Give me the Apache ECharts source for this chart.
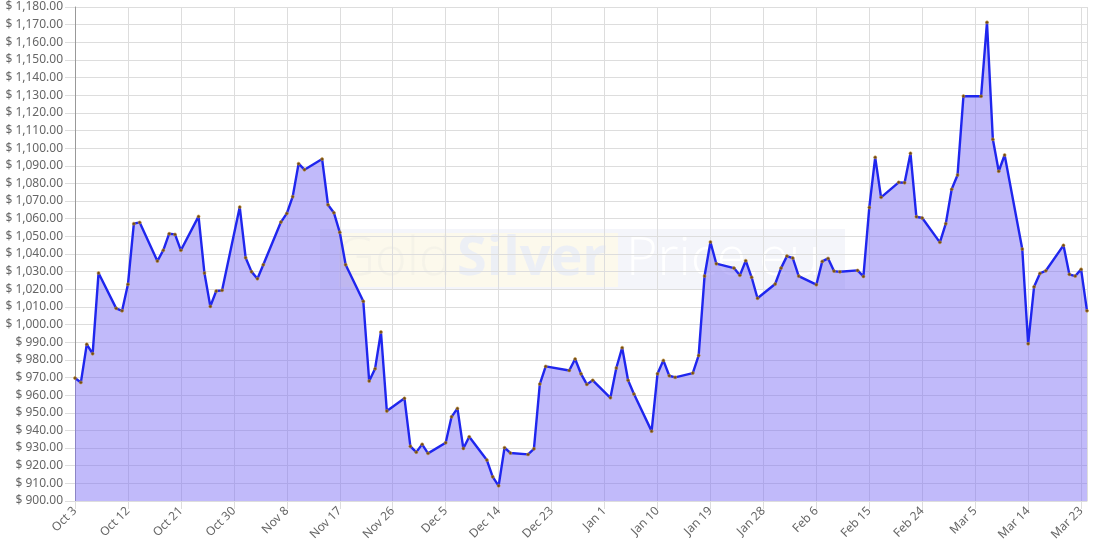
<!DOCTYPE html>
<html>
<head>
<meta charset="utf-8">
<script src="https://cdn.jsdelivr.net/npm/echarts@6/dist/echarts.min.js"></script>
<style>
html,body{margin:0;padding:0;background:#fff;}
#chart{width:1096px;height:548px;}
</style>
</head>
<body>
<div id="chart"></div>
<script>
var startDate = '2022-10-03';
var dates = [
'2022-10-03','2022-10-04','2022-10-05','2022-10-06','2022-10-07',
'2022-10-10','2022-10-11','2022-10-12','2022-10-13','2022-10-14',
'2022-10-17','2022-10-18','2022-10-19','2022-10-20','2022-10-21',
'2022-10-24','2022-10-25','2022-10-26','2022-10-27','2022-10-28',
'2022-10-31','2022-11-01','2022-11-02','2022-11-03','2022-11-04',
'2022-11-07','2022-11-08','2022-11-09','2022-11-10','2022-11-11',
'2022-11-14','2022-11-15','2022-11-16','2022-11-17','2022-11-18',
'2022-11-21','2022-11-22','2022-11-23','2022-11-24','2022-11-25',
'2022-11-28','2022-11-29','2022-11-30','2022-12-01','2022-12-02',
'2022-12-05','2022-12-06','2022-12-07','2022-12-08','2022-12-09',
'2022-12-12','2022-12-13','2022-12-14','2022-12-15','2022-12-16',
'2022-12-19','2022-12-20','2022-12-21','2022-12-22',
'2022-12-26','2022-12-27','2022-12-28','2022-12-29','2022-12-30',
'2023-01-02','2023-01-03','2023-01-04','2023-01-05','2023-01-06',
'2023-01-09','2023-01-10','2023-01-11','2023-01-12','2023-01-13',
'2023-01-16','2023-01-17','2023-01-18','2023-01-19','2023-01-20',
'2023-01-23','2023-01-24','2023-01-25','2023-01-26','2023-01-27',
'2023-01-30','2023-01-31','2023-02-01','2023-02-02','2023-02-03',
'2023-02-06','2023-02-07','2023-02-08','2023-02-09','2023-02-10',
'2023-02-13','2023-02-14','2023-02-15','2023-02-16','2023-02-17',
'2023-02-20','2023-02-21','2023-02-22','2023-02-23','2023-02-24',
'2023-02-27','2023-02-28','2023-03-01','2023-03-02','2023-03-03',
'2023-03-06','2023-03-07','2023-03-08','2023-03-09','2023-03-10',
'2023-03-13','2023-03-14','2023-03-15','2023-03-16','2023-03-17',
'2023-03-20','2023-03-21','2023-03-22','2023-03-23','2023-03-24'
];
var prices = [
969.7,967.2,988.8,983.5,1029.2,
1009.2,1007.8,1022.8,1057.2,1057.9,
1036.0,1042.1,1051.5,1051.1,1042.1,
1061.3,1029.2,1010.3,1019.0,1019.4,
1066.6,1037.9,1030.0,1026.0,1033.9,
1058.1,1063.0,1072.5,1091.2,1087.8,
1093.8,1067.9,1063.4,1052.3,1033.9,
1013.2,968.0,975.0,995.8,951.0,
958.2,931.0,927.7,932.1,927.0,
933.0,947.7,952.5,929.8,936.4,
923.2,913.7,908.6,930.2,927.2,
926.4,929.6,966.3,976.3,
974.0,980.5,972.1,966.1,968.4,
958.5,975.4,986.9,968.4,960.6,
939.6,972.1,979.7,971.0,970.1,
972.5,982.5,1027.5,1046.8,1034.5,
1032.0,1027.9,1036.2,1026.8,1014.9,
1023.0,1032.0,1038.8,1037.7,1027.5,
1022.6,1035.8,1037.5,1030.3,1029.9,
1030.7,1027.3,1066.4,1094.8,1072.1,
1080.6,1080.4,1097.1,1061.1,1060.4,
1046.6,1057.2,1076.7,1084.8,1129.5,
1129.4,1171.3,1105.0,1086.9,1096.1,
1042.8,989.1,1021.4,1029.0,1030.5,
1044.9,1028.5,1027.5,1031.3,1007.8
];
var yMin = 900, yMax = 1180, yStep = 10;
var xSpanDays = 172, xStepDays = 9;

var DAY = 86400000;
var t0 = Date.parse(startDate + 'T00:00:00Z');
var months = ['Jan','Feb','Mar','Apr','May','Jun','Jul','Aug','Sep','Oct','Nov','Dec'];
var seriesData = dates.map(function (d, i) {
  return [Math.round((Date.parse(d + 'T00:00:00Z') - t0) / DAY), prices[i]];
});

var chart = echarts.init(document.getElementById('chart'), null, {renderer: 'canvas'});
var labelFont = '"Noto Sans", sans-serif';
chart.setOption({
  animation: false,
  backgroundColor: '#ffffff',
  grid: {left: 75, right: 9, top: 7, bottom: 47, containLabel: false},
  graphic: [
    {type: 'rect', z: 0, silent: true, shape: {x: 320, y: 229, width: 525, height: 61},
     style: {fill: 'rgba(228,231,242,0.4)'}},
    {type: 'rect', z: 0, silent: true, shape: {x: 339, y: 233, width: 279, height: 54},
     style: {fill: 'rgba(255,251,230,0.7)'}},
    {type: 'text', z: 0, silent: true, x: 336, y: 233,
     style: {text: 'Gold', font: '300 54px "Open Sans", sans-serif', fill: 'rgba(244,242,232,0.9)'}},
    {type: 'text', z: 0, silent: true, x: 457, y: 233,
     style: {text: 'Silver', font: 'bold 54px "Open Sans", sans-serif', fill: 'rgba(234,237,246,0.9)'}},
    {type: 'text', z: 0, silent: true, x: 626, y: 233,
     style: {text: 'Price.eu', font: '300 54px "Open Sans", sans-serif', fill: 'rgba(255,255,255,0.95)'}}
  ],
  xAxis: {
    type: 'value', min: 0, max: xSpanDays, interval: xStepDays,
    axisLine: {show: true, lineStyle: {color: '#dddddd'}},
    axisTick: {show: true, length: 8, lineStyle: {color: '#dddddd'}},
    splitLine: {show: true, lineStyle: {color: '#dddddd', width: 1}},
    axisLabel: {
      rotate: 45, color: '#666', fontSize: 12, fontFamily: labelFont, margin: 8,
      showMaxLabel: false,
      formatter: function (v) {
        var d = new Date(t0 + v * DAY);
        return months[d.getUTCMonth()] + ' ' + d.getUTCDate();
      }
    }
  },
  yAxis: {
    type: 'value', min: yMin, max: yMax, interval: yStep,
    axisLine: {show: true, lineStyle: {color: '#999999'}},
    axisTick: {show: true, length: 10, lineStyle: {color: '#dddddd'}},
    splitLine: {show: true, lineStyle: {color: '#dddddd', width: 1}},
    axisLabel: {
      color: '#666', fontSize: 12, fontFamily: labelFont, margin: 12,
      formatter: function (v) {
        return '$ ' + v.toLocaleString('en-US', {minimumFractionDigits: 2, maximumFractionDigits: 2});
      }
    }
  },
  series: [{
    type: 'line',
    data: seriesData,
    showAllSymbol: true,
    symbol: 'circle',
    symbolSize: 3,
    itemStyle: {color: '#6b4a12', borderColor: '#c8923a', borderWidth: 0.6},
    lineStyle: {color: '#1f26ee', width: 2.4},
    areaStyle: {color: 'rgba(125,110,245,0.48)', opacity: 1, origin: 'start'},
    z: 3
  }]
});
</script>
</body>
</html>
